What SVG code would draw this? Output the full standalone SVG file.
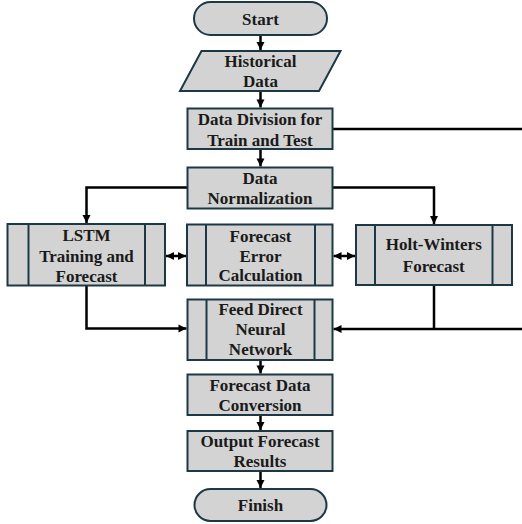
<svg xmlns="http://www.w3.org/2000/svg" width="522" height="524" viewBox="0 0 522 524">
<style>
.box{fill:#d3d3d3;stroke:#1c3847;stroke-width:2}
.in{stroke:#1c3847;stroke-width:2}
.c{fill:none;stroke:#000;stroke-width:2.5}
</style>
<defs>
<marker id="ah" markerUnits="userSpaceOnUse" markerWidth="10" markerHeight="10" viewBox="0 0 10 10" refX="9" refY="5" orient="auto">
<path d="M1,1 L9,5 L1,9 Z" fill="#000"/>
</marker>
<marker id="as" markerUnits="userSpaceOnUse" markerWidth="10" markerHeight="10" viewBox="0 0 10 10" refX="1" refY="5" orient="auto">
<path d="M9,1 L1,5 L9,9 Z" fill="#000"/>
</marker>
</defs>
<g id="connectors">
<path class="c" d="M260.5,35 V50" marker-end="url(#ah)"/>
<path class="c" d="M260.5,91 V107.5" marker-end="url(#ah)"/>
<path class="c" d="M260.5,149 V166.5" marker-end="url(#ah)"/>
<path class="c" d="M332.5,129 H530 V329 H333.5" marker-end="url(#ah)"/>
<path class="c" d="M187.5,187.5 H86.5 V223" marker-end="url(#ah)"/>
<path class="c" d="M332.5,187.5 H434 V224" marker-end="url(#ah)"/>
<path class="c" d="M86.5,285.5 V328.5 H186.5" marker-end="url(#ah)"/>
<path class="c" d="M434,285 V329"/>
<path class="c" d="M166,256 H186" marker-start="url(#as)" marker-end="url(#ah)"/>
<path class="c" d="M333.5,256 H355" marker-start="url(#as)" marker-end="url(#ah)"/>
<path class="c" d="M260.5,360 V373.5" marker-end="url(#ah)"/>
<path class="c" d="M260.5,415 V430" marker-end="url(#ah)"/>
<path class="c" d="M260.5,471 V488" marker-end="url(#ah)"/>
</g>
<g font-family="'Liberation Serif', 'Times New Roman', 'DejaVu Serif', serif" font-weight="bold" font-size="17" fill="#1a1a1a" text-anchor="middle">
<g id="start">
<rect class="box" x="194" y="2" width="133" height="33" rx="16.5"/>
<text x="260.5" y="24.5">Start</text>
</g>
<g id="historical">
<polygon class="box" points="201.5,51 340.5,51 319,91 180,91"/>
<text x="260.5" y="66.5">Historical</text>
<text x="260.5" y="87">Data</text>
</g>
<g id="division">
<rect class="box" x="187.5" y="108.5" width="145" height="40.5"/>
<text x="260" y="125">Data Division for</text>
<text x="260" y="145.5">Train and Test</text>
</g>
<g id="normalization">
<rect class="box" x="187.5" y="167.5" width="145" height="41"/>
<text x="260" y="184">Data</text>
<text x="260" y="204">Normalization</text>
</g>
<g id="lstm">
<rect class="box" x="7.5" y="224" width="157.5" height="61.5"/>
<line class="in" x1="28.5" y1="224" x2="28.5" y2="285.5"/>
<line class="in" x1="145" y1="224" x2="145" y2="285.5"/>
<text x="86.5" y="241">LSTM</text>
<text x="86.5" y="262">Training and</text>
<text x="86.5" y="281.5">Forecast</text>
</g>
<g id="error">
<rect class="box" x="187" y="224.5" width="145.5" height="61"/>
<line class="in" x1="206" y1="224.5" x2="206" y2="285.5"/>
<line class="in" x1="315" y1="224.5" x2="315" y2="285.5"/>
<text x="260.5" y="241.5">Forecast</text>
<text x="260.5" y="261.5">Error</text>
<text x="260.5" y="281">Calculation</text>
</g>
<g id="holtwinters">
<rect class="box" x="356" y="225" width="156" height="60"/>
<line class="in" x1="375" y1="225" x2="375" y2="285"/>
<line class="in" x1="492.5" y1="225" x2="492.5" y2="285"/>
<text x="433.75" y="250">Holt-Winters</text>
<text x="433.75" y="271.5">Forecast</text>
</g>
<g id="ffnn">
<rect class="box" x="187.5" y="299.5" width="145" height="60.5"/>
<line class="in" x1="206.5" y1="299.5" x2="206.5" y2="360"/>
<line class="in" x1="314.5" y1="299.5" x2="314.5" y2="360"/>
<text x="260.5" y="315">Feed Direct</text>
<text x="260.5" y="335">Neural</text>
<text x="260.5" y="355">Network</text>
</g>
<g id="conversion">
<rect class="box" x="187.5" y="374.5" width="145" height="40.5"/>
<text x="260" y="390.5">Forecast Data</text>
<text x="260" y="410.5">Conversion</text>
</g>
<g id="output">
<rect class="box" x="187.5" y="431" width="145" height="40"/>
<text x="260" y="447">Output Forecast</text>
<text x="260" y="467">Results</text>
</g>
<g id="finish">
<rect class="box" x="194.5" y="489" width="132" height="32" rx="16"/>
<text x="260.5" y="510.5">Finish</text>
</g>
</g>
</svg>
